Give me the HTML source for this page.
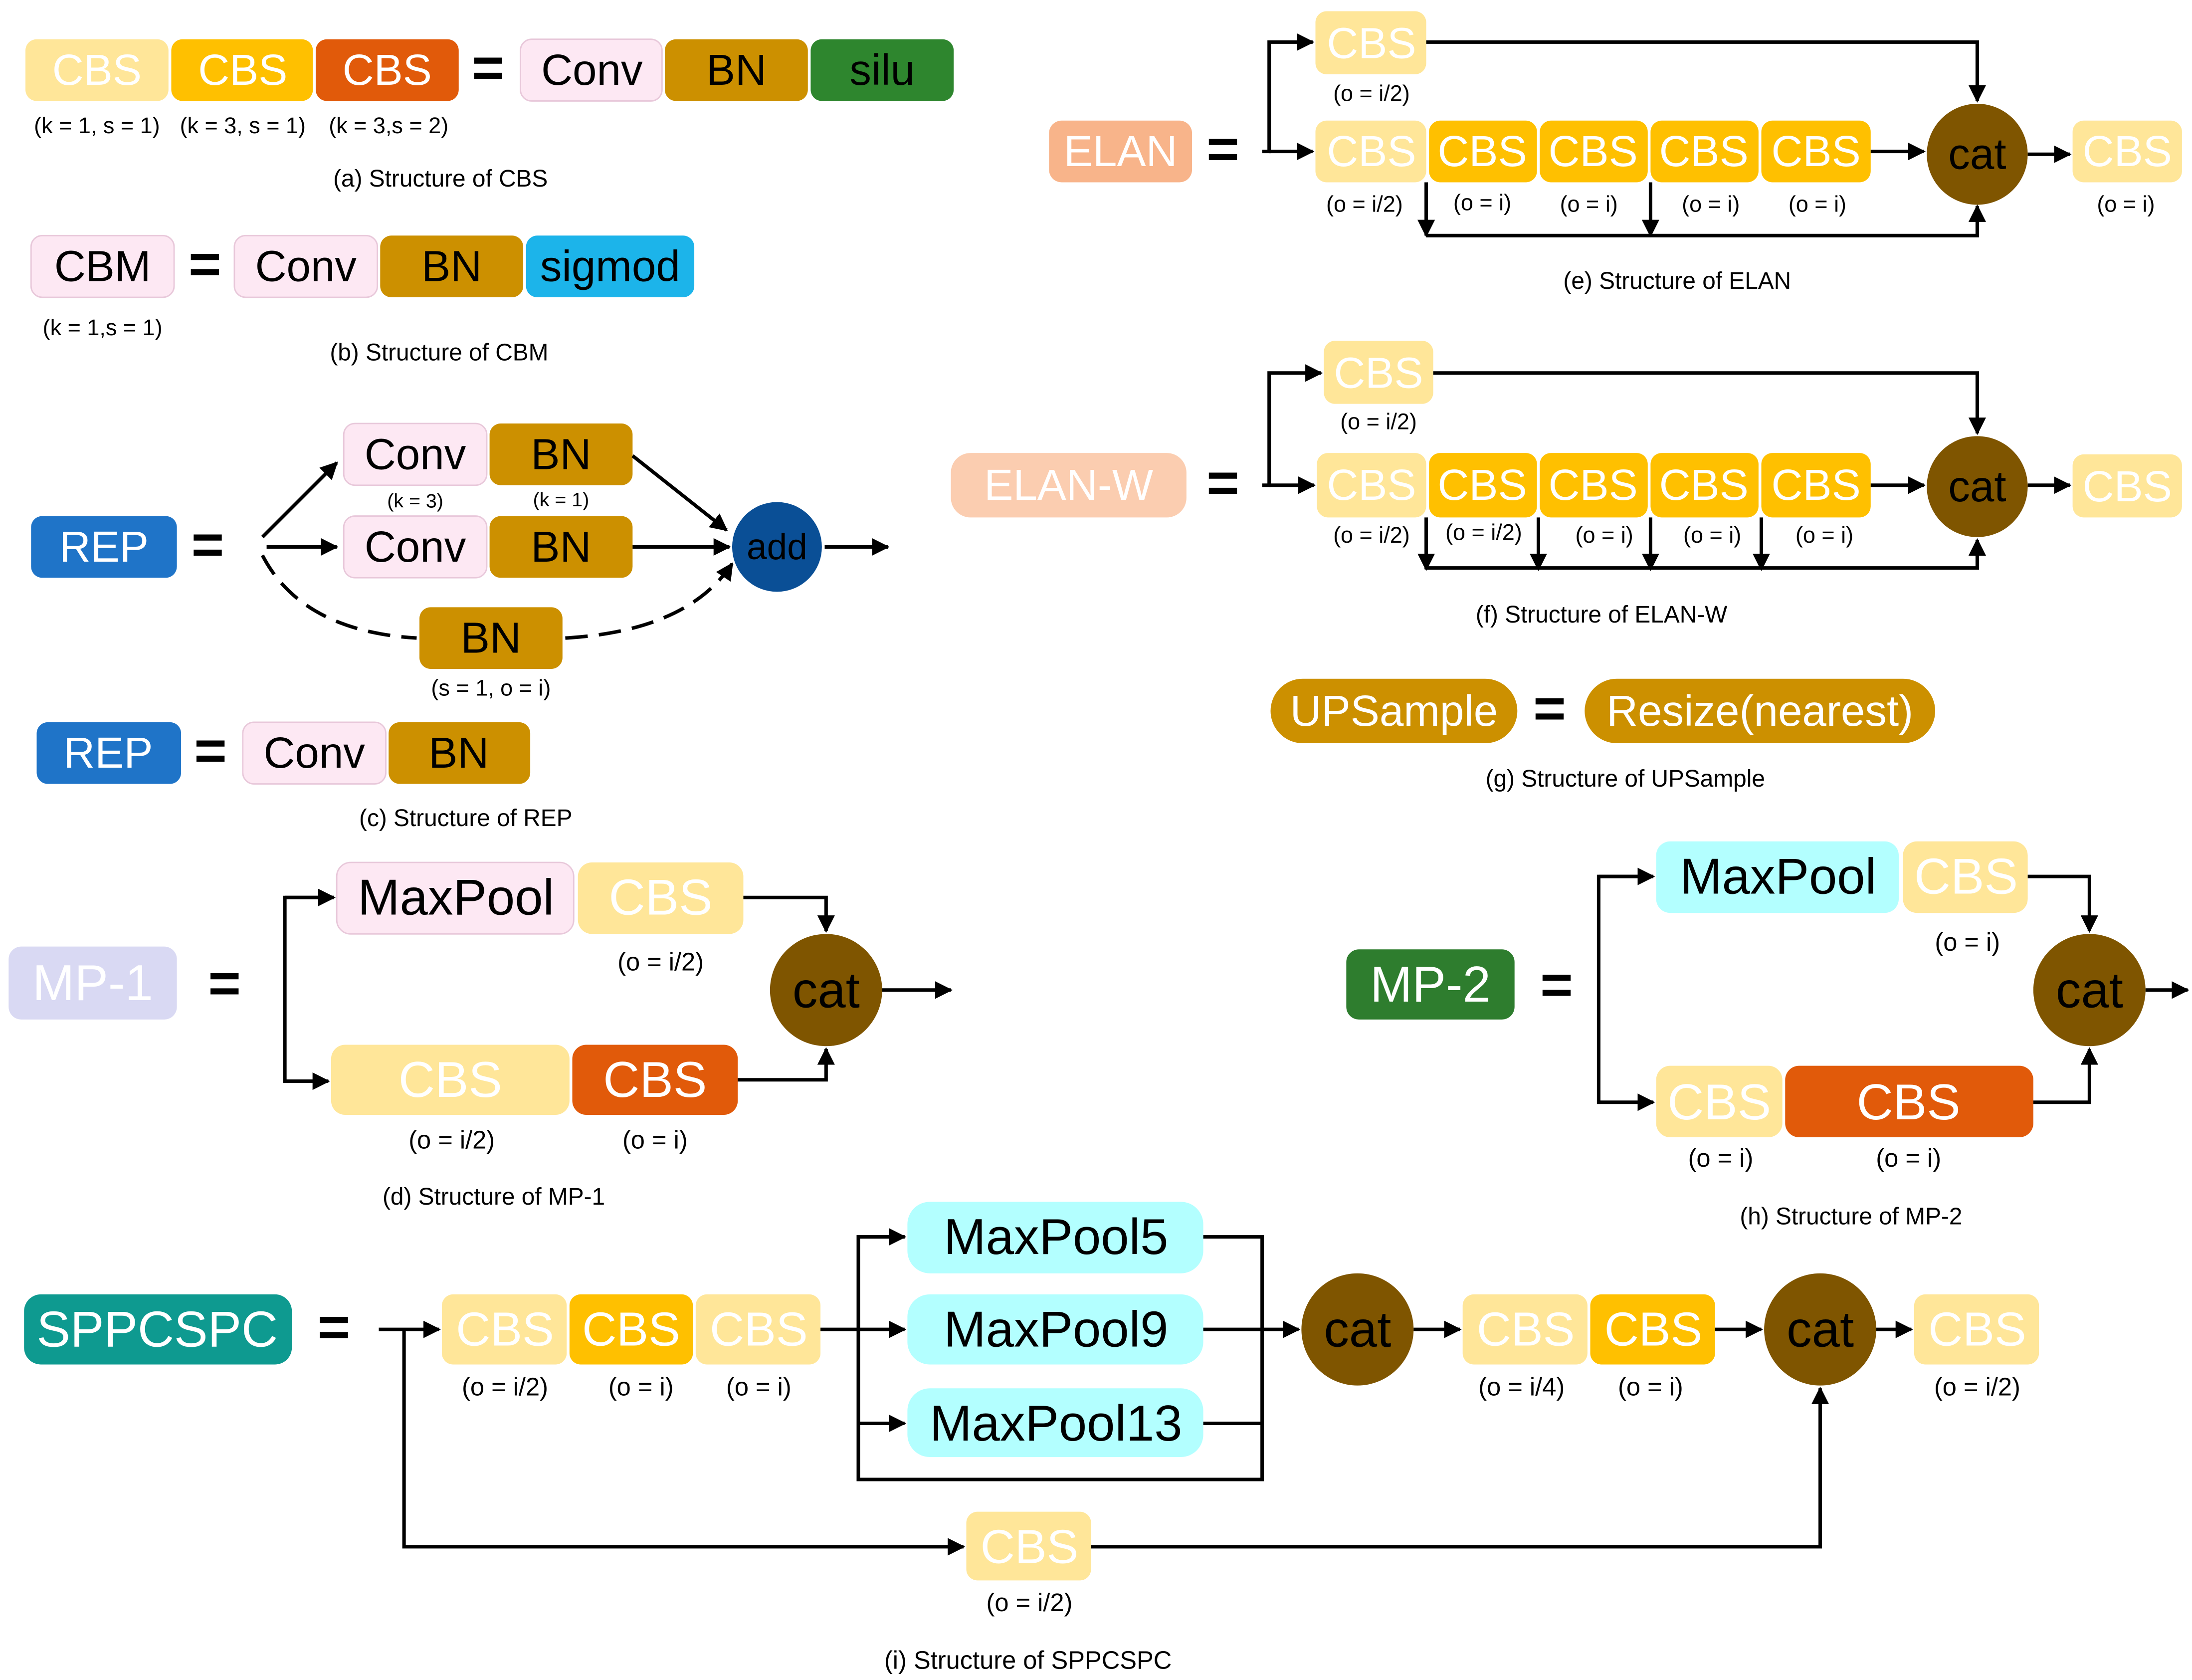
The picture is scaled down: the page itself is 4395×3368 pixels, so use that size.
<!DOCTYPE html>
<html><head><meta charset="utf-8"><style>
html,body{margin:0;padding:0;background:#fff;}
svg{display:block;}
text{font-family:"Liberation Sans",sans-serif;}
</style></head><body>
<svg width="4395" height="3368" viewBox="0 0 1563 1198" xmlns="http://www.w3.org/2000/svg">
<defs>
<marker id="a" viewBox="0 0 10 10" refX="9" refY="5" markerWidth="5" markerHeight="5" orient="auto-start-reverse"><path d="M0,0 L10,5 L0,10 z" fill="#000"/></marker>
<style>
.ly{fill:#FFE699}.or{fill:#FFC000}.do{fill:#E15A0A}.pk{fill:#FDE8F3;stroke:#E8C8DA;stroke-width:1}.bn{fill:#CC9000}
.w{fill:#fff}.k{fill:#000}
.t{font-size:31px;text-anchor:middle;dominant-baseline:central}
.s{font-size:16px;text-anchor:middle;fill:#000}
.c{font-size:17px;text-anchor:middle;fill:#000}
.eq{font-size:40px;font-weight:bold;text-anchor:middle;dominant-baseline:central;fill:#000}
.l{stroke:#000;stroke-width:2.5;fill:none}
</style>
</defs>
<!-- (a) -->
<rect x="18" y="28" width="102" height="44" rx="8" class="ly"/><text x="69" y="50" class="t w">CBS</text>
<rect x="122" y="28" width="101" height="44" rx="8" class="or"/><text x="173" y="50" class="t w">CBS</text>
<rect x="225" y="28" width="102" height="44" rx="8" class="do"/><text x="276" y="50" class="t w">CBS</text>
<text x="348" y="48" class="eq">=</text>
<rect x="371" y="28" width="101" height="44" rx="8" class="pk"/><text x="422" y="50" class="t k">Conv</text>
<rect x="474" y="28" width="102" height="44" rx="8" class="bn"/><text x="525" y="50" class="t k">BN</text>
<rect x="578" y="28" width="102" height="44" rx="8" fill="#2E862E"/><text x="629" y="50" class="t k">silu</text>
<text x="69" y="95" class="s">(k = 1, s = 1)</text><text x="173" y="95" class="s">(k = 3, s = 1)</text><text x="277" y="95" class="s">(k = 3,s = 2)</text>
<text x="314" y="133" class="c">(a) Structure of CBS</text>
<!-- (b) -->
<rect x="22" y="168" width="102" height="44" rx="8" class="pk"/><text x="73" y="190" class="t k">CBM</text>
<text x="146" y="188" class="eq">=</text>
<rect x="167" y="168" width="102" height="44" rx="8" class="pk"/><text x="218" y="190" class="t k">Conv</text>
<rect x="271" y="168" width="102" height="44" rx="8" class="bn"/><text x="322" y="190" class="t k">BN</text>
<rect x="375" y="168" width="120" height="44" rx="8" fill="#1CB4EA"/><text x="435" y="190" class="t k">sigmod</text>
<text x="73" y="239" class="s">(k = 1,s = 1)</text>
<text x="313" y="257" class="c">(b) Structure of CBM</text>
<!-- (c) -->
<rect x="22" y="368" width="104" height="44" rx="8" fill="#1F74C8"/><text x="74" y="390" class="t w">REP</text>
<text x="148" y="388" class="eq">=</text>
<rect x="245" y="302" width="102" height="44" rx="8" class="pk"/><text x="296" y="324" class="t k">Conv</text>
<rect x="349" y="302" width="102" height="44" rx="8" class="bn"/><text x="400" y="324" class="t k">BN</text>
<text x="296" y="362" class="s" style="font-size:14px">(k = 3)</text><text x="400" y="361" class="s" style="font-size:14px">(k = 1)</text>
<rect x="245" y="368" width="102" height="44" rx="8" class="pk"/><text x="296" y="390" class="t k">Conv</text>
<rect x="349" y="368" width="102" height="44" rx="8" class="bn"/><text x="400" y="390" class="t k">BN</text>
<rect x="299" y="433" width="102" height="44" rx="8" class="bn"/><text x="350" y="455" class="t k">BN</text>
<text x="350" y="496" class="s">(s = 1, o = i)</text>
<circle cx="554" cy="390" r="32" fill="#0A4F96"/><text x="554" y="390" class="t k" style="font-size:26px">add</text>
<line x1="187" y1="383" x2="240" y2="330" class="l" marker-end="url(#a)"/>
<line x1="190" y1="390" x2="240" y2="390" class="l" marker-end="url(#a)"/>
<line x1="451" y1="325" x2="518" y2="378" class="l" marker-end="url(#a)"/>
<line x1="451" y1="390" x2="520" y2="390" class="l" marker-end="url(#a)"/>
<line x1="588" y1="390" x2="633" y2="390" class="l" marker-end="url(#a)"/>
<path d="M187,396 Q215,450 297,455" class="l" stroke-dasharray="16,8"/>
<path d="M403,455 Q490,450 522,402" class="l" stroke-dasharray="16,8" marker-end="url(#a)"/>
<rect x="26" y="515" width="103" height="44" rx="8" fill="#1F74C8"/><text x="77" y="537" class="t w">REP</text>
<text x="150" y="535" class="eq">=</text>
<rect x="173" y="515" width="102" height="44" rx="8" class="pk"/><text x="224" y="537" class="t k">Conv</text>
<rect x="277" y="515" width="101" height="44" rx="8" class="bn"/><text x="327" y="537" class="t k">BN</text>
<text x="332" y="589" class="c">(c) Structure of REP</text>
<!-- (d) -->
<rect x="6" y="675" width="120" height="52" rx="9" fill="#D9D9F3"/><text x="66" y="701" class="t w" style="font-size:36px">MP-1</text>
<text x="160" y="701" class="eq">=</text>
<rect x="240" y="615" width="169" height="51" rx="10" class="pk"/><text x="325" y="640" class="t k" style="font-size:36px">MaxPool</text>
<rect x="412" y="615" width="118" height="51" rx="10" class="ly"/><text x="471" y="640" class="t w" style="font-size:36px">CBS</text>
<text x="471" y="692" class="s" style="font-size:18px">(o = i/2)</text>
<rect x="236" y="745" width="170" height="50" rx="10" class="ly"/><text x="321" y="770" class="t w" style="font-size:36px">CBS</text>
<rect x="408" y="745" width="118" height="50" rx="10" class="do"/><text x="467" y="770" class="t w" style="font-size:36px">CBS</text>
<text x="322" y="819" class="s" style="font-size:18px">(o = i/2)</text><text x="467" y="819" class="s" style="font-size:18px">(o = i)</text>
<circle cx="589" cy="706" r="40" fill="#7F5500"/><text x="589" y="706" class="t k" style="font-size:36px">cat</text>
<path d="M238,640 H203 V771 H234" class="l" marker-end="url(#a)"/>
<line x1="203" y1="640" x2="238" y2="640" class="l" marker-end="url(#a)"/>
<path d="M530,640 H589 V664" class="l" marker-end="url(#a)"/>
<path d="M526,770 H589 V748" class="l" marker-end="url(#a)"/>
<line x1="629" y1="706" x2="678" y2="706" class="l" marker-end="url(#a)"/>
<text x="352" y="859" class="c">(d) Structure of MP-1</text>
<!-- (e) -->
<rect x="748" y="86" width="102" height="44" rx="9" fill="#F8B48A"/><text x="799" y="108" class="t w">ELAN</text>
<text x="872" y="106" class="eq">=</text>
<rect x="938" y="8" width="79" height="45" rx="8" class="ly"/><text x="978" y="31" class="t w">CBS</text>
<text x="978" y="72" class="s">(o = i/2)</text>
<rect x="938" y="86" width="79" height="44" rx="8" class="ly"/><text x="978" y="108" class="t w">CBS</text>
<rect x="1019" y="86" width="77" height="44" rx="8" class="or"/><text x="1057" y="108" class="t w">CBS</text>
<rect x="1098" y="86" width="77" height="44" rx="8" class="or"/><text x="1136" y="108" class="t w">CBS</text>
<rect x="1177" y="86" width="77" height="44" rx="8" class="or"/><text x="1215" y="108" class="t w">CBS</text>
<rect x="1256" y="86" width="78" height="44" rx="8" class="or"/><text x="1295" y="108" class="t w">CBS</text>
<text x="973" y="151" class="s">(o = i/2)</text><text x="1057" y="150" class="s">(o = i)</text><text x="1133" y="151" class="s">(o = i)</text><text x="1220" y="151" class="s">(o = i)</text><text x="1296" y="151" class="s">(o = i)</text>
<circle cx="1410" cy="110" r="36" fill="#7F5500"/><text x="1410" y="110" class="t k">cat</text>
<rect x="1478" y="86" width="78" height="44" rx="8" class="ly"/><text x="1517" y="108" class="t w">CBS</text>
<text x="1516" y="151" class="s">(o = i)</text>
<path d="M900,108 H905 V30 H936" class="l" marker-end="url(#a)"/>
<line x1="905" y1="108" x2="936" y2="108" class="l" marker-end="url(#a)"/>
<path d="M1017,30 H1410 V72" class="l" marker-end="url(#a)"/>
<line x1="1334" y1="108" x2="1372" y2="108" class="l" marker-end="url(#a)"/>
<line x1="1446" y1="110" x2="1476" y2="110" class="l" marker-end="url(#a)"/>
<path d="M1017,168 H1410 V147" class="l" marker-end="url(#a)"/>
<line x1="1017" y1="130" x2="1017" y2="168" class="l" marker-end="url(#a)"/>
<line x1="1177" y1="130" x2="1177" y2="168" class="l" marker-end="url(#a)"/>
<text x="1196" y="206" class="c">(e) Structure of ELAN</text>
<!-- (f) -->
<rect x="678" y="323" width="168" height="46" rx="14" fill="#FBCDB0"/><text x="762" y="346" class="t w">ELAN-W</text>
<text x="872" y="344" class="eq">=</text>
<rect x="944" y="243" width="78" height="45" rx="8" class="ly"/><text x="983" y="266" class="t w">CBS</text>
<text x="983" y="306" class="s">(o = i/2)</text>
<rect x="939" y="323" width="78" height="46" rx="8" class="ly"/><text x="978" y="346" class="t w">CBS</text>
<rect x="1019" y="323" width="77" height="46" rx="8" class="or"/><text x="1057" y="346" class="t w">CBS</text>
<rect x="1098" y="323" width="77" height="46" rx="8" class="or"/><text x="1136" y="346" class="t w">CBS</text>
<rect x="1177" y="323" width="77" height="46" rx="8" class="or"/><text x="1215" y="346" class="t w">CBS</text>
<rect x="1256" y="323" width="78" height="46" rx="8" class="or"/><text x="1295" y="346" class="t w">CBS</text>
<text x="978" y="387" class="s">(o = i/2)</text><text x="1058" y="385" class="s">(o = i/2)</text><text x="1144" y="387" class="s">(o = i)</text><text x="1221" y="387" class="s">(o = i)</text><text x="1301" y="387" class="s">(o = i)</text>
<circle cx="1410" cy="347" r="36" fill="#7F5500"/><text x="1410" y="347" class="t k">cat</text>
<rect x="1478" y="324" width="78" height="45" rx="8" class="ly"/><text x="1517" y="347" class="t w">CBS</text>
<path d="M900,346 H905 V266 H942" class="l" marker-end="url(#a)"/>
<line x1="905" y1="346" x2="937" y2="346" class="l" marker-end="url(#a)"/>
<path d="M1022,266 H1410 V309" class="l" marker-end="url(#a)"/>
<line x1="1334" y1="346" x2="1372" y2="346" class="l" marker-end="url(#a)"/>
<line x1="1446" y1="346" x2="1476" y2="346" class="l" marker-end="url(#a)"/>
<path d="M1017,405 H1410 V385" class="l" marker-end="url(#a)"/>
<line x1="1017" y1="369" x2="1017" y2="406" class="l" marker-end="url(#a)"/>
<line x1="1097" y1="369" x2="1097" y2="406" class="l" marker-end="url(#a)"/>
<line x1="1177" y1="369" x2="1177" y2="406" class="l" marker-end="url(#a)"/>
<line x1="1256" y1="369" x2="1256" y2="406" class="l" marker-end="url(#a)"/>
<text x="1142" y="444" class="c">(f) Structure of ELAN-W</text>
<!-- (g) -->
<rect x="906" y="484" width="176" height="46" rx="23" class="bn"/><text x="994" y="507" class="t w">UPSample</text>
<text x="1105" y="505" class="eq">=</text>
<rect x="1130" y="484" width="250" height="46" rx="23" class="bn"/><text x="1255" y="507" class="t w">Resize(nearest)</text>
<text x="1159" y="561" class="c">(g) Structure of UPSample</text>
<!-- (h) -->
<rect x="960" y="677" width="120" height="50" rx="9" fill="#2E7D2E"/><text x="1020" y="702" class="t w" style="font-size:36px">MP-2</text>
<text x="1110" y="702" class="eq">=</text>
<rect x="1181" y="600" width="173" height="51" rx="10" fill="#B3FFFF"/><text x="1268" y="625" class="t k" style="font-size:36px">MaxPool</text>
<rect x="1357" y="600" width="89" height="51" rx="10" class="ly"/><text x="1402" y="625" class="t w" style="font-size:36px">CBS</text>
<text x="1403" y="678" class="s" style="font-size:18px">(o = i)</text>
<rect x="1181" y="760" width="90" height="51" rx="10" class="ly"/><text x="1226" y="786" class="t w" style="font-size:36px">CBS</text>
<rect x="1273" y="760" width="177" height="51" rx="10" class="do"/><text x="1361" y="786" class="t w" style="font-size:36px">CBS</text>
<text x="1227" y="832" class="s" style="font-size:18px">(o = i)</text><text x="1361" y="832" class="s" style="font-size:18px">(o = i)</text>
<circle cx="1490" cy="706" r="40" fill="#7F5500"/><text x="1490" y="706" class="t k" style="font-size:36px">cat</text>
<path d="M1179,625 H1140 V786 H1179" class="l" marker-end="url(#a)"/>
<line x1="1140" y1="625" x2="1179" y2="625" class="l" marker-end="url(#a)"/>
<path d="M1446,625 H1490 V664" class="l" marker-end="url(#a)"/>
<path d="M1450,786 H1490 V748" class="l" marker-end="url(#a)"/>
<line x1="1530" y1="706" x2="1560" y2="706" class="l" marker-end="url(#a)"/>
<text x="1320" y="873" class="c">(h) Structure of MP-2</text>
<!-- (i) -->
<rect x="17" y="923" width="191" height="50" rx="12" fill="#0E9A90"/><text x="112" y="948" class="t w" style="font-size:36px">SPPCSPC</text>
<text x="238" y="946" class="eq">=</text>
<rect x="315" y="923" width="89" height="50" rx="8" class="ly"/><text x="360" y="948" class="t w" style="font-size:34px">CBS</text>
<rect x="406" y="923" width="88" height="50" rx="8" class="or"/><text x="450" y="948" class="t w" style="font-size:34px">CBS</text>
<rect x="496" y="923" width="89" height="50" rx="8" class="ly"/><text x="541" y="948" class="t w" style="font-size:34px">CBS</text>
<text x="360" y="995" class="s" style="font-size:18px">(o = i/2)</text><text x="457" y="995" class="s" style="font-size:18px">(o = i)</text><text x="541" y="995" class="s" style="font-size:18px">(o = i)</text>
<rect x="647" y="857" width="211" height="51" rx="16" fill="#B3FFFF"/><text x="753" y="882" class="t k" style="font-size:36px">MaxPool5</text>
<rect x="647" y="923" width="211" height="50" rx="16" fill="#B3FFFF"/><text x="753" y="948" class="t k" style="font-size:36px">MaxPool9</text>
<rect x="647" y="990" width="211" height="49" rx="16" fill="#B3FFFF"/><text x="753" y="1015" class="t k" style="font-size:36px">MaxPool13</text>
<line x1="270" y1="948" x2="313" y2="948" class="l" marker-end="url(#a)"/>
<path d="M645,882 H612 V1055 H900 V882 H858" class="l"/>
<line x1="585" y1="948" x2="645" y2="948" class="l" marker-end="url(#a)"/>
<line x1="612" y1="882" x2="645" y2="882" class="l" marker-end="url(#a)"/>
<line x1="612" y1="1015" x2="645" y2="1015" class="l" marker-end="url(#a)"/>
<line x1="858" y1="948" x2="926" y2="948" class="l" marker-end="url(#a)"/>
<line x1="858" y1="1015" x2="900" y2="1015" class="l"/>
<circle cx="968" cy="948" r="40" fill="#7F5500"/><text x="968" y="948" class="t k" style="font-size:36px">cat</text>
<line x1="1008" y1="948" x2="1041" y2="948" class="l" marker-end="url(#a)"/>
<rect x="1043" y="923" width="89" height="50" rx="8" class="ly"/><text x="1088" y="948" class="t w" style="font-size:34px">CBS</text>
<rect x="1134" y="923" width="89" height="50" rx="8" class="or"/><text x="1179" y="948" class="t w" style="font-size:34px">CBS</text>
<text x="1085" y="995" class="s" style="font-size:18px">(o = i/4)</text><text x="1177" y="995" class="s" style="font-size:18px">(o = i)</text>
<line x1="1223" y1="948" x2="1256" y2="948" class="l" marker-end="url(#a)"/>
<circle cx="1298" cy="948" r="40" fill="#7F5500"/><text x="1298" y="948" class="t k" style="font-size:36px">cat</text>
<line x1="1338" y1="948" x2="1363" y2="948" class="l" marker-end="url(#a)"/>
<rect x="1365" y="923" width="89" height="50" rx="8" class="ly"/><text x="1410" y="948" class="t w" style="font-size:34px">CBS</text>
<text x="1410" y="995" class="s" style="font-size:18px">(o = i/2)</text>
<path d="M288,948 V1103 H687" class="l" marker-end="url(#a)"/>
<rect x="689" y="1078" width="89" height="49" rx="8" class="ly"/><text x="734" y="1103" class="t w" style="font-size:34px">CBS</text>
<text x="734" y="1149" class="s" style="font-size:18px">(o = i/2)</text>
<path d="M778,1103 H1298 V990" class="l" marker-end="url(#a)"/>
<text x="733" y="1190" class="c" style="font-size:18px">(i) Structure of SPPCSPC</text>
</svg>
</body></html>
